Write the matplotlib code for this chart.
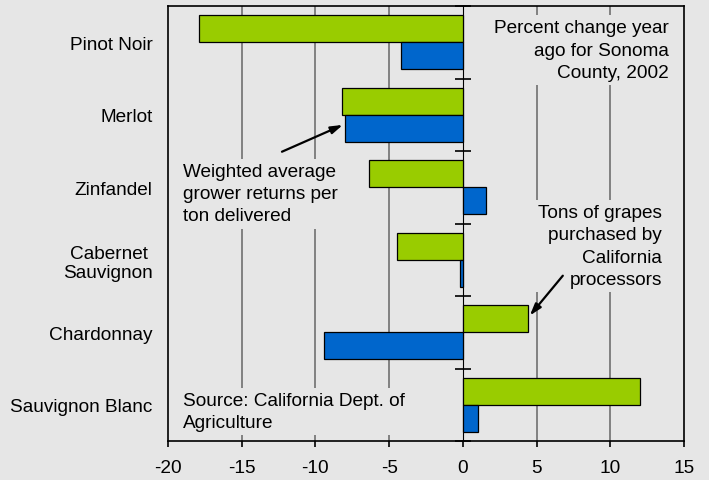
import numpy as np
import matplotlib
matplotlib.use('Agg')
import matplotlib.pyplot as plt

plt.rcParams['font.family'] = ['Liberation Sans', 'DejaVu Sans']

# data
varieties = ['Pinot Noir', 'Merlot', 'Zinfandel', 'Cabernet \nSauvignon',
			 'Chardonnay', 'Sauvignon Blanc']
tons_pct = [-17.9, -8.2, -6.4, -4.5, 4.4, 12.0]        # green
returns_pct = [-4.2, -8.0, 1.55, -0.2, -9.4, 1.0]      # blue
xticks = [-20, -15, -10, -5, 0, 5, 10, 15]

BG = '#e6e6e6'
GREEN = '#99cc00'
BLUE = '#0066cc'
FS = 13.7
LS = 1.4

fig = plt.figure(figsize=(7.09, 4.81), dpi=100, facecolor=BG)
ax = fig.add_axes([168 / 709, 1 - 442 / 481, 516 / 709, 435 / 481])
ax.set_facecolor(BG)

y = np.arange(len(varieties))
h = 0.37
ax.barh(y - h / 2, tons_pct, height=h, color=GREEN, edgecolor='black', lw=0.9, zorder=3)
ax.barh(y + h / 2, returns_pct, height=h, color=BLUE, edgecolor='black', lw=0.9, zorder=3)

ax.set_xlim(-20, 15)
ax.set_ylim(len(varieties) - 0.5, -0.5)

# vertical grid, skipping the frame and the zero line
for gx in xticks[1:-1]:
	if gx != 0:
		ax.axvline(gx, color='#666666', lw=1.1, zorder=1)

for s in ax.spines.values():
	s.set_color('black')
	s.set_linewidth(1.2)

ax.set_xticks(xticks)
ax.set_xticklabels([str(v) for v in xticks], fontsize=FS)
ax.tick_params(axis='x', direction='out', length=4, width=1.2, pad=9)
ax.set_yticks(y)
ax.set_yticklabels(varieties, fontsize=FS)
ax.tick_params(axis='y', length=0, pad=11)

# zero axis with category separators
zero = ax.secondary_yaxis(20 / 35)
zero.set_ylim(ax.get_ylim())
zero.spines['left'].set_linewidth(1.0)
zero.set_yticks(np.arange(len(varieties) + 1) - 0.5)
zero.tick_params(direction='inout', length=11, width=1.2,
				 labelleft=False, labelright=False)

box = dict(facecolor=BG, edgecolor='none', pad=3)
ax.text(0.971, 0.969, 'Percent change year\nago for Sonoma\nCounty, 2002',
		transform=ax.transAxes, ha='right', va='top', fontsize=FS,
		linespacing=LS, bbox=box, zorder=2)
ax.text(0.029, 0.113, 'Source: California Dept. of\nAgriculture',
		transform=ax.transAxes, ha='left', va='top', fontsize=FS,
		linespacing=LS, bbox=box, zorder=2)

arrow = dict(arrowstyle='-|>,head_length=0.7,head_width=0.22', color='black',
			 lw=1.6, shrinkA=0, shrinkB=0)
ax.annotate('', xy=(-8.14, 1.14), xytext=(-12.27, 1.51), arrowprops=arrow, zorder=4)
ax.annotate('', xy=(4.54, 3.77), xytext=(6.78, 3.22), arrowprops=arrow, zorder=4)

ax.text(0.029, 0.639, 'Weighted average\ngrower returns per\nton delivered',
		transform=ax.transAxes, ha='left', va='top', fontsize=FS,
		linespacing=LS, bbox=box, zorder=2)
ax.text(0.957, 0.5445, 'Tons of grapes\npurchased by\nCalifornia\nprocessors',
		transform=ax.transAxes, ha='right', va='top', fontsize=FS,
		linespacing=LS, bbox=box, zorder=2)

fig.savefig('out.png', dpi=100, facecolor=BG)
